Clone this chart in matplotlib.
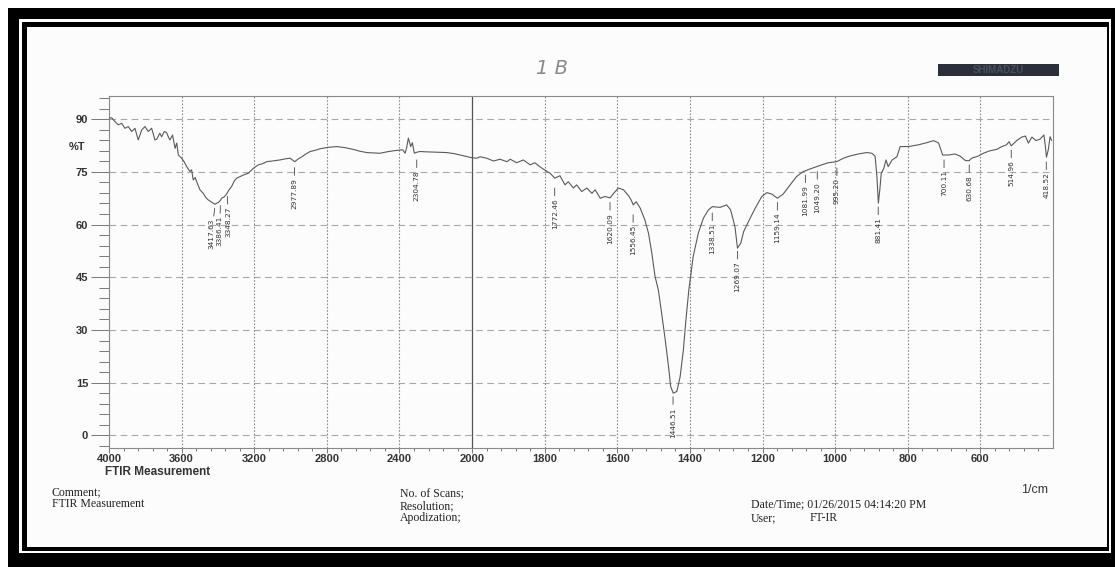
import numpy as np
import matplotlib
matplotlib.use('Agg')
import matplotlib.pyplot as plt
from matplotlib.patches import Rectangle


# spectrum (1/cm, %T)
wavenumber = [
    3996, 3985, 3967, 3949, 3930, 3912, 3894, 3875, 3857, 3839, 3820, 3802,
    3784, 3765, 3747, 3737, 3720, 3710, 3695, 3683, 3670, 3664, 3650, 3636,
    3627, 3618, 3600, 3585, 3572, 3554, 3545, 3536, 3525, 3517, 3499, 3481,
    3465, 3453, 3426, 3417, 3398, 3386, 3380, 3365, 3352, 3340, 3325, 3310,
    3297, 3280, 3260, 3233, 3205, 3178, 3150, 3132, 3100, 3058, 3030, 3003,
    2977, 2960, 2938, 2915, 2892, 2860, 2837, 2790, 2745, 2700, 2654, 2620,
    2580, 2540, 2507, 2470, 2433, 2400, 2382, 2369, 2360, 2351, 2342, 2338,
    2329, 2318, 2304, 2287, 2250, 2200, 2140, 2100, 2048, 2000, 1987, 1978,
    1960, 1941, 1923, 1904, 1895, 1877, 1859, 1840, 1827, 1815, 1804, 1785,
    1772, 1758, 1744, 1735, 1721, 1712, 1698, 1684, 1670, 1661, 1647, 1634,
    1620, 1610, 1597, 1583, 1569, 1562, 1556, 1548, 1537, 1524, 1514, 1505,
    1496, 1487, 1478, 1468, 1459, 1453, 1446, 1436, 1427, 1418, 1411, 1403,
    1391, 1377, 1363, 1349, 1338, 1317, 1299, 1288, 1276, 1269, 1260, 1252,
    1239, 1220, 1202, 1188, 1175, 1159, 1143, 1124, 1106, 1088, 1082, 1070,
    1051, 1037, 1019, 996, 977, 960, 936, 913, 899, 890, 885, 881,
    877, 873, 866, 860, 854, 843, 830, 821, 798, 771, 748, 729,
    715, 704, 688, 670, 656, 641, 631, 624, 606, 592, 574, 555,
    541, 528, 521, 515, 500, 486, 476, 468, 458, 447, 436, 425,
    421, 418, 413, 408, 404,
]
transmittance = [
    90.3, 90.4, 89.3, 88.4, 88.8, 87.4, 87.9, 86.5, 87.4, 84.1, 86.9, 87.9,
    86.5, 87.4, 84.1, 84.3, 86.0, 85.0, 86.5, 86.2, 84.6, 84.1, 85.5, 81.7,
    83.2, 79.8, 78.9, 77.8, 76.5, 75.1, 75.6, 72.7, 73.4, 72.2, 69.9, 68.9,
    67.6, 67.0, 66.1, 65.8, 66.3, 66.9, 67.5, 67.9, 68.7, 69.8, 70.8, 72.4,
    73.2, 73.6, 74.1, 74.6, 76.0, 77.0, 77.4, 77.9, 78.1, 78.4, 78.7, 78.9,
    77.9, 78.6, 79.3, 80.1, 80.8, 81.2, 81.6, 82.0, 82.2, 81.9, 81.4, 80.9,
    80.5, 80.4, 80.3, 80.7, 81.0, 81.2, 81.3, 80.3, 82.0, 84.6, 83.0, 82.2,
    83.3, 80.3, 80.6, 80.8, 80.7, 80.6, 80.5, 80.2, 79.6, 79.0, 78.9, 79.3,
    78.9, 78.1, 78.6, 77.9, 78.6, 77.6, 78.4, 77.0, 77.6, 76.6, 75.8, 74.6,
    73.2, 73.9, 71.3, 72.2, 70.4, 71.3, 69.4, 70.4, 68.9, 69.9, 67.5, 68.0,
    67.6, 68.9, 70.4, 69.9, 68.2, 67.0, 65.6, 66.5, 64.7, 61.3, 57.5, 51.9,
    45.2, 41.4, 34.8, 27.2, 19.6, 13.9, 12.0, 12.5, 16.7, 24.3, 32.9, 41.4,
    50.9, 57.5, 61.8, 64.2, 65.1, 64.9, 65.6, 64.2, 59.4, 53.3, 54.7, 58.0,
    60.8, 64.7, 68.0, 69.1, 68.7, 67.5, 68.7, 71.3, 73.7, 75.1, 75.3, 75.8,
    76.5, 77.0, 77.6, 77.9, 78.9, 79.5, 80.1, 80.5, 80.3, 79.5, 73.7, 66.1,
    69.9, 74.6, 76.0, 78.4, 76.5, 78.4, 79.3, 82.2, 82.2, 82.7, 83.3, 83.9,
    83.2, 79.8, 79.8, 80.1, 79.5, 78.2, 78.2, 78.9, 79.5, 80.3, 81.0, 81.4,
    82.2, 82.7, 83.6, 82.4, 83.9, 84.9, 85.2, 83.2, 84.9, 83.9, 84.3, 85.5,
    82.2, 79.2, 81.3, 85.0, 84.0,
]

# peak table: position and %T at top of each leader
peak_wn = [3417.63, 3386.41, 3348.27, 2977.89, 2304.78, 1772.46, 1620.09,
           1556.45, 1446.51, 1338.51, 1269.07, 1159.14, 1081.99, 1049.20,
           995.20, 881.41, 700.11, 630.68, 514.96, 418.52]
peak_top = [64.6, 65.4, 68.0, 76.2, 78.4, 70.4, 66.3, 62.8, 11.0, 63.3,
            52.4, 66.3, 74.1, 75.1, 76.1, 65.0, 78.4, 77.0, 81.2, 77.8]

yticks = [0, 15, 30, 45, 60, 75, 90]
xticks = [4000, 3600, 3200, 2800, 2400, 2000, 1800, 1600, 1400, 1200,
          1000, 800, 600]
xgrid = [3600, 3200, 2800, 2400, 1800, 1600, 1400, 1200, 1000, 800, 600]

W, H = 1115, 567


def fwd(x):
    x = np.asarray(x, dtype=float)
    return np.where(x >= 2000, x / 2 + 1000, x)


def inv(u):
    u = np.asarray(u, dtype=float)
    return np.where(u >= 2000, (u - 1000) * 2, u)


def px_box(x0, y0, x1, y1, color, z):
    return Rectangle((x0 / W, 1 - y1 / H), (x1 - x0) / W, (y1 - y0) / H,
                     transform=fig.transFigure, facecolor=color,
                     edgecolor='none', zorder=z)


fig = plt.figure(figsize=(W / 100, H / 100), dpi=100)
fig.patch.set_facecolor('white')

# scanned page frame
fig.add_artist(px_box(8, 8, W, H, 'black', -5))
fig.add_artist(px_box(19, 19, W - 4, H - 14, 'white', -4))
fig.add_artist(px_box(22, 22, W - 6, H - 16, 'black', -3))
fig.add_artist(px_box(27, 27, W - 8, H - 20, '#fcfcfc', -2))

ax = fig.add_axes([109 / W, 1 - 448 / H, (1053 - 109) / W, (448 - 96) / H])
ax.set_facecolor('none')
ax.set_xscale('function', functions=(fwd, inv))
ax.set_xlim(4000, 400)
ax.set_ylim(-3.6, 96.6)

for sp in ax.spines.values():
    sp.set_color('#8a8a8a')
    sp.set_linewidth(0.8)

ax.set_yticks(yticks)
ax.set_yticks(np.arange(-3, 97, 3), minor=True)
ax.set_yticklabels([str(v) for v in yticks], fontsize=8, fontweight='bold',
                   color='#333333', family='Liberation Sans')
ax.tick_params(axis='y', which='major', length=13, width=0.7,
               color='#777777', pad=2)
ax.tick_params(axis='y', which='minor', length=7, width=0.7,
               color='#777777')

ax.set_xticks(xticks)
minor_x = list(range(3920, 2000, -80)) + list(range(1960, 400, -40))
ax.set_xticks(minor_x, minor=True)
ax.set_xticklabels([str(v) for v in xticks], fontsize=8, fontweight='bold',
                   color='#333333', family='Liberation Sans')
ax.tick_params(axis='x', which='major', length=3.5, width=0.7,
               color='#777777', pad=1)
ax.tick_params(axis='x', which='minor', length=2.5, width=0.7,
               color='#777777')

# grid
for v in yticks:
    ax.axhline(v, color='#a8a8a8', lw=0.8, ls=(0, (6, 4)), zorder=1)
for v in xgrid:
    ax.axvline(v, color='#8c8c8c', lw=0.8, ls=(0, (1.5, 1.5)), zorder=1)
ax.axvline(4000, color='#8c8c8c', lw=0.8, ls=(0, (1.5, 1.5)), zorder=1)
ax.axvline(2000, color='#555555', lw=0.9, zorder=1)

ax.plot(wavenumber, transmittance, color='#5a5a5a', lw=0.8, zorder=3)

# the printer spreads crowded labels apart a little
label_dx = {3417.63: -2.4, 3386.41: -0.6, 3348.27: 1.0}
for wn, t in zip(peak_wn, peak_top):
    dx = label_dx.get(wn, 0)
    ax.annotate(f'{wn:.2f}', xy=(wn, t), xytext=(dx, -7.5),
                textcoords='offset points', rotation=90, ha='center',
                va='top', fontsize=5.3, color='#333333',
                family=['Liberation Sans Narrow', 'DejaVu Sans'],
                arrowprops=dict(arrowstyle='-', color='#444444', lw=0.6,
                                shrinkA=0, shrinkB=0))

# axis captions on the page
fig.text(77 / W, 1 - 147 / H, '%T', ha='center', va='center', fontsize=8,
         fontweight='bold', color='#333333', family='Liberation Sans')
fig.text(105 / W, 1 - 472 / H, 'FTIR Measurement', ha='left', va='center',
         fontsize=8.5, fontweight='bold', color='#333333',
         family='Liberation Sans')
fig.text(1035 / W, 1 - 490 / H, '1/cm', ha='center', va='center',
         fontsize=9, color='#333333', family='Liberation Sans')

# header: handwritten sample id and instrument badge
fig.text(552 / W, 1 - 69 / H, '1 B', ha='center', va='center', fontsize=14,
         color='#8a8a8a', family='DejaVu Sans', fontweight='light',
         style='italic')
fig.add_artist(px_box(938, 64, 1059, 76, '#2b2f3a', 0))
fig.text(998 / W, 1 - 70 / H, 'SHIMADZU', ha='center', va='center',
         fontsize=7, fontweight='bold', color='#4a505e',
         family='Liberation Sans', zorder=1)

# footer info
serif = dict(fontsize=8.5, color='#222222', family='Liberation Serif',
             ha='left', va='center')
fig.text(52 / W, 1 - 492 / H, 'Comment;', **serif)
fig.text(52 / W, 1 - 504 / H, 'FTIR Measurement', **serif)
fig.text(400 / W, 1 - 494 / H, 'No. of Scans;', **serif)
fig.text(400 / W, 1 - 506 / H, 'Resolution;', **serif)
fig.text(400 / W, 1 - 518 / H, 'Apodization;', **serif)
fig.text(751 / W, 1 - 504 / H, 'Date/Time; 01/26/2015 04:14:20 PM', **serif)
fig.text(751 / W, 1 - 518 / H, 'User;', **serif)
fig.text(810 / W, 1 - 518 / H, 'FT-IR', **serif)

fig.savefig('out.png', dpi=100)
